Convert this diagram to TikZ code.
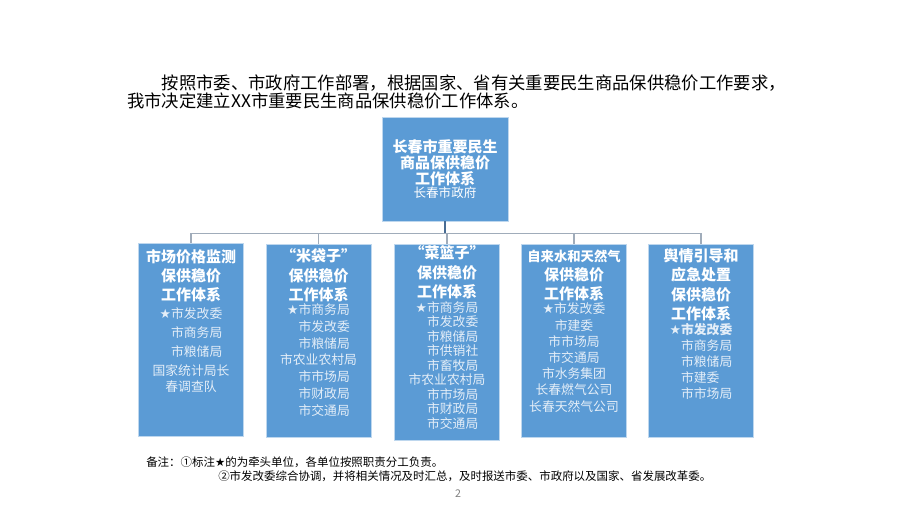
\documentclass[tikz,border=0pt]{standalone}
\usepackage{fontspec}
\setmainfont{Noto Sans CJK SC}
\newfontfamily\symfont{DejaVu Sans}
\usetikzlibrary{positioning}
\definecolor{boxBlue}{RGB}{91,155,213}
\definecolor{boxEdge}{RGB}{190,215,238}
\definecolor{stemBlue}{RGB}{72,108,148}
\definecolor{spokeGray}{RGB}{160,172,186}
\definecolor{memberWhite}{RGB}{228,238,248}
\newcommand{\leadStar}{{\symfont ★}}
\newcommand{\noStar}{\phantom{\leadStar}}
\tikzstyle{topBox}=[shape = rectangle, fill = boxBlue, draw = boxEdge, line width = 0.6pt, minimum width = 94.5pt, minimum height = 78pt, inner sep = 0pt, text = white, align = center]
\tikzstyle{groupBox}=[shape = rectangle, fill = boxBlue, draw = boxEdge, line width = 0.6pt, minimum width = 78.75pt, minimum height = 144.75pt, inner sep = 0pt]
\tikzstyle{groupTitle}=[inner sep = 0pt, text = white, align = center, font = \fontsize{11.25}{14.4}\selectfont\bfseries]
\tikzstyle{groupMember}=[inner sep = 0pt, text = memberWhite, align = center]
\tikzstyle{stemLine}=[draw = stemBlue, line width = 0.8pt]
\tikzstyle{spokeLine}=[draw = spokeGray, line width = 0.8pt]

\begin{document}
\begin{tikzpicture}[x = 0.75pt, y = -0.75pt]
\useasboundingbox (0,0) rectangle (920,518);
% Intro
\node[anchor = north west, inner sep = 0pt, align = left, font = \fontsize{13}{13.5}\selectfont] (intro) at (127, 74) {\hspace*{2em}按照市委、市政府工作部署，根据国家、省有关重要民生商品保供稳价工作要求，\\我市决定建立XX市重要民生商品保供稳价工作体系。};
% Top
\node[topBox] (sys) at (445, 169) {\fontsize{11.25}{14.6}\selectfont\bfseries 长春市重要民生\\[0pt]\fontsize{11.25}{14.6}\selectfont\bfseries 商品保供稳价\\[0pt]\fontsize{11.25}{14.6}\selectfont\bfseries 工作体系\\[-2pt]\fontsize{9.4}{11}\selectfont\mdseries 长春市政府};
% Groups
\node[groupBox] (price) at (191, 340) {};
\node[groupBox] (rice) at (318.5, 340.5) {};
\node[groupBox, minimum height = 147pt] (veg) at (447, 342) {};
\node[groupBox] (gas) at (574, 340.5) {};
\node[groupBox] (opinion) at (701, 340.5) {};
\node[groupTitle, below = 4.5pt of price.north] (priceTitle) {市场价格监测\\保供稳价\\工作体系};
\node[groupTitle, below = 3.75pt of rice.north] (riceTitle) {“米袋子”\\保供稳价\\工作体系};
\node[groupTitle, below = 1.5pt of veg.north] (vegTitle) {“菜篮子”\\保供稳价\\工作体系};
\node[groupTitle, below = 4.5pt of gas.north] (gasTitle) {{\fontsize{10}{14.4}\selectfont 自来水和天然气}\\保供稳价\\工作体系};
\node[groupTitle, below = 3.75pt of opinion.north] (opinionTitle) {舆情引导和\\应急处置\\保供稳价\\工作体系};
\node[groupMember, font = \fontsize{9.6}{14.25}\selectfont, below = 3.3pt of priceTitle] (priceMember) {\leadStar 市发改委\\\noStar 市商务局\\\noStar 市粮储局\\国家统计局长\\[-2.25pt]春调查队};
\node[groupMember, font = \fontsize{9.6}{12.6}\selectfont, below = 1pt of riceTitle] (riceMember) {\leadStar 市商务局\\\noStar 市发改委\\\noStar 市粮储局\\市农业农村局\\\noStar 市市场局\\\noStar 市财政局\\\noStar 市交通局};
\node[groupMember, font = \fontsize{9.6}{10.9}\selectfont, below = 1.5pt of vegTitle] (vegMember) {\leadStar 市商务局\\\noStar 市发改委\\\noStar 市粮储局\\\noStar 市供销社\\\noStar 市畜牧局\\市农业农村局\\\noStar 市市场局\\\noStar 市财政局\\\noStar 市交通局};
\node[groupMember, font = \fontsize{9.6}{12.15}\selectfont, below = 1pt of gasTitle] (gasMember) {\leadStar 市发改委\\市建委\\市市场局\\市交通局\\市水务集团\\长春燃气公司\\长春天然气公司};
\node[groupMember, font = \fontsize{9.6}{12}\selectfont, below = 1.5pt of opinionTitle] (opinionMember) {{\bfseries\leadStar 市发改委}\\\noStar 市商务局\\\noStar 市粮储局\\\noStar 市建委\phantom{市}\\\noStar 市市场局};
% Links
\draw[stemLine] (sys.south) -- ++(0, 12) coordinate (bus);
\draw[spokeLine] (bus -| price.north) -- (bus -| opinion.north);
\foreach \g in {price, rice, veg, gas, opinion}
  \draw[spokeLine] (bus -| \g.north) -- (\g.north);
\draw[stemLine] (sys.south) -- (bus);
% Notes
\node[anchor = north west, inner sep = 0pt, align = left, font = \fontsize{8.6}{10.5}\selectfont] (note) at (146, 457) {备注：①标注\leadStar 的为牵头单位，各单位按照职责分工负责。\\\hspace*{54pt}②市发改委综合协调，并将相关情况及时汇总，及时报送市委、市政府以及国家、省发展改革委。};
\node[font = \fontsize{8}{9}\selectfont, text = gray] (pageNum) at (458, 494) {2};
\end{tikzpicture}
\end{document}
